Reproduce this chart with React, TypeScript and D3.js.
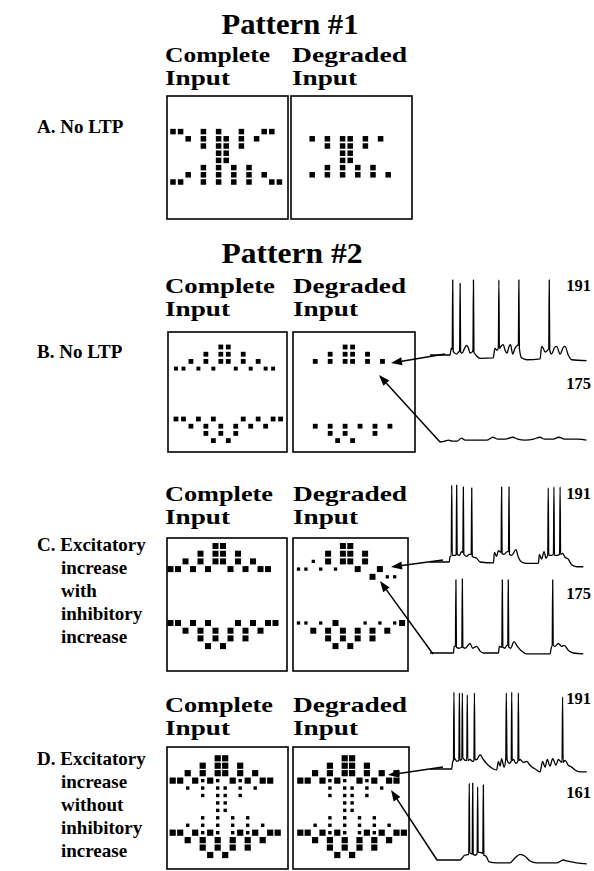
import React from "react";
import * as d3 from "d3";

// input grids: 15 columns, 14 rows; "#" full cell, "o" medium cell, "." small cell
const pattern1Complete = [
  "               ",
  "               ",
  "               ",
  "##  # #  #  ## ",
  "  # # ## # #   ",
  "    # ## #     ",
  "      ##       ",
  "      ##       ",
  "    # # # #    ",
  "  # # # # # #  ",
  "##  # # # #  ##",
  "               ",
  "               ",
  "               ",
];
const pattern1Degraded = [
  "               ",
  "               ",
  "               ",
  "               ",
  "  # # ## # #   ",
  "    # ## #     ",
  "      ##       ",
  "      ##       ",
  "    # # # #    ",
  "  # # # # # #  ",
  "               ",
  "               ",
  "               ",
  "               ",
];
const pattern2Complete = [
  "      ##       ",
  "    # ## #     ",
  "  # # ## # #   ",
  "oo o o  o o oo ",
  "               ",
  "               ",
  "               ",
  "               ",
  "               ",
  "               ",
  "## # #   # # ##",
  "  # # # # # #  ",
  "    # # #      ",
  "     # #       ",
];
const pattern2Degraded = [
  "      ##       ",
  "    # ## #     ",
  "  # # ## # #   ",
  "               ",
  "               ",
  "               ",
  "               ",
  "               ",
  "               ",
  "               ",
  "               ",
  "  # # # # # #  ",
  "    # #   #    ",
  "     # #       ",
];
const excInhComplete = [
  "      ##       ",
  "    # ## #     ",
  "  # # ## # #   ",
  "## # #  # # ## ",
  "               ",
  "               ",
  "               ",
  "               ",
  "               ",
  "               ",
  "## # #   # # ##",
  "  # # # # # #  ",
  "    # # # #    ",
  "     # #       ",
];
const excInhDegraded = [
  "      ##       ",
  "    # ## #     ",
  "  . # ## #     ",
  ".. . .  #  #   ",
  "          # .. ",
  "               ",
  "               ",
  "               ",
  "               ",
  "               ",
  ".. . #   . . .#",
  "  # # # # # #  ",
  "    # # # #    ",
  "     # #       ",
];
const excOnlyComplete = [
  "      ##       ",
  "    # ## #     ",
  "  # # ## # #   ",
  "## #.#. #.# ## ",
  "  . . .. . .   ",
  "    . .. .     ",
  "      ..       ",
  "      ..       ",
  "    . . . .    ",
  "  . . . . . .  ",
  "## #.#. .#.# ##",
  "  # # # # # #  ",
  "    # # # #    ",
  "     # #       ",
];
const excOnlyDegraded = [
  "      ##       ",
  "    # ## #     ",
  "  # # ## # # # ",
  "## #.#. #.# ## ",
  "    . .. . .   ",
  "    . .. .     ",
  "      ..       ",
  "      ..       ",
  "    . . . .    ",
  "  . . . . . .  ",
  "## #.#. .#.# ##",
  "  # # # # # #  ",
  "    # # # #    ",
  "     # #       ",
];

// membrane potential traces: [time ms, mV]
const traceB191 = [
  [0, -65], [81, -65], [86, -58], [90, -59], [92, 14], [94, -61], [100, -63], [108, -64], [115, -62],
  [120, -61], [122, 10.5], [124, -62], [130, -63], [140, -58], [148, -55], [156, -58], [162, -63],
  [170, -62], [174, -60], [176, 14], [178, -62], [183, -64], [189, -66], [203, -68.5], [256, -68],
  [263, -58], [272, -60], [277, -57], [279, 14], [281, -58], [290, -55], [297, -54], [304, -60],
  [312, -63], [320, -56], [326, -54], [335, -64], [344, -58], [353, -55], [358, -54], [360, 14],
  [362, -58], [371, -68], [392, -70], [446, -69], [452, -56], [459, -58], [466, -62], [476, -60],
  [481, -58], [483, 14], [485, -60], [492, -64], [505, -57], [513, -56], [527, -64], [540, -57],
  [547, -56], [560, -65], [574, -70], [634, -71],
];
const traceB175 = [
  [40, -65], [60, -64], [75, -63], [90, -64], [110, -64], [128, -61], [142, -63], [180, -63],
  [230, -63], [255, -60], [275, -62], [305, -62], [335, -60], [355, -62], [385, -63], [420, -62],
  [445, -60], [465, -62], [500, -62], [522, -60], [545, -62], [600, -62], [634, -63],
];
const traceC191 = [
  [0, -65], [78, -65], [81, -59], [86, -59], [88, 16], [90, -58], [97, -58], [106, -58], [108, 16],
  [110, -57], [119, -58], [128, -54], [133, -55], [135, 14], [137, -57], [149, -59], [159, -57],
  [167, -57], [169, 13], [171, -59], [178, -60], [189, -61], [203, -65], [257, -66], [261, -55],
  [270, -59], [277, -53], [288, -55], [290, 14], [292, -56], [300, -57], [313, -54], [318, -54],
  [320, 14], [322, -57], [331, -58], [348, -52], [358, -60], [371, -65], [392, -66.5], [439, -66.5],
  [443, -57], [452, -62], [462, -54], [470, -61], [477, -57], [479, 13], [481, -58], [493, -58],
  [500, -57], [502, 14], [504, -58], [513, -58], [525, -57], [527, 14], [529, -57], [537, -56],
  [547, -60], [560, -62], [574, -68], [594, -70], [621, -70],
];
const traceC175 = [
  [0, -65], [95, -65], [98, -58], [103, -58], [105, 12], [107, -59], [115, -60], [129, -59],
  [131, 13], [133, -59], [142, -60], [162, -55], [173, -60], [189, -58], [203, -63], [216, -65],
  [277, -65], [281, -58], [291, -59], [293, 12], [295, -59], [304, -60], [311, -57], [315, -57],
  [317, 12], [319, -59], [327, -60], [340, -53], [354, -58], [371, -63], [392, -66], [486, -66],
  [493, -58], [495, -58], [497, 12], [499, -57], [506, -58], [520, -55], [533, -58], [543, -57],
  [560, -62], [581, -65], [621, -66],
];
const traceD191 = [
  [0, -65], [88, -65], [92, -57], [95, -56], [97, 16], [99, -55], [101, -54], [108, -57], [117, -56],
  [119, 15], [121, -56], [129, -55], [131, 15], [133, -54], [135, -54], [142, -56], [149, -56],
  [151, 13], [153, -56], [162, -55], [173, -57], [178, -56], [180, 15], [182, -55], [189, -55],
  [203, -50], [216, -55], [236, -61], [257, -65], [270, -66], [277, -57], [284, -62], [290, -54],
  [300, -63], [307, -54], [309, 15], [312, -55], [321, -59], [329, -57], [331, 16], [333, -56],
  [338, -55], [348, -59], [356, -57], [358, 15], [360, -56], [365, -55], [378, -58], [392, -57],
  [405, -61], [432, -66], [446, -68], [456, -57], [466, -63], [475, -55], [486, -62], [497, -54],
  [510, -61], [520, -55], [533, -58], [535, -58], [537, 11], [539, -58], [547, -56], [560, -61],
  [574, -63], [587, -66], [608, -68], [635, -68],
];
const traceD161 = [
  [27, -65], [122, -65], [140, -60], [157, -59], [159, 16], [161, -58], [166, -58], [171, -59],
  [173, 16], [175, -59], [182, -60], [191, -58], [193, 12], [195, -57], [203, -57], [214, -58],
  [216, 14], [218, -60], [227, -61], [240, -67], [270, -68], [324, -68], [344, -63], [365, -59],
  [385, -61], [405, -66], [432, -68], [513, -68], [540, -65], [554, -66], [594, -68], [635, -69],
];

const cellLabels = { top: "191", bottomB: "175", bottomC: "175", bottomD: "161" };

const FONT = "'Liberation Serif', 'Times New Roman', serif";

type GridProps = {
  rows: string[];
  x: number; y: number; w: number; h: number;
  colOff: number; colStep: number; rowOff: number; rowStep: number; size: number;
};

function Grid({ rows, x, y, w, h, colOff, colStep, rowOff, rowStep, size }: GridProps) {
  const xs = d3.scaleLinear().domain([0, 14]).range([x + colOff, x + colOff + 14 * colStep]);
  const ys = d3.scaleLinear().domain([0, 13]).range([y + rowOff, y + rowOff + 13 * rowStep]);
  const sizeOf: Record<string, number> = { "#": size, o: size * 0.82, ".": size * 0.55 };
  const cells: JSX.Element[] = [];
  rows.forEach((row, r) => {
    row.split("").forEach((ch, c) => {
      if (ch === " ") return;
      const s = sizeOf[ch];
      cells.push(
        <rect key={`${r}-${c}`} x={xs(c) - s / 2} y={ys(r) - s / 2} width={s} height={s} fill="#000" />
      );
    });
  });
  return (
    <g>
      <rect x={x} y={y} width={w} height={h} fill="none" stroke="#000" strokeWidth={1.6} />
      {cells}
    </g>
  );
}

const tScale = d3.scaleLinear().domain([0, 640]).range([430, 588]);

function Trace({ data, base }: { data: number[][]; base: number }) {
  const v = d3.scaleLinear().domain([-65, 15]).range([base, base - 76]);
  const line = d3
    .line<number[]>()
    .x((d) => tScale(d[0]))
    .y((d) => v(d[1]))
    .curve(d3.curveMonotoneX);
  return <path d={line(data) || ""} fill="none" stroke="#000" strokeWidth={1.3} strokeLinejoin="round" />;
}

function Arrow({ from, to }: { from: [number, number]; to: [number, number] }) {
  const ang = Math.atan2(to[1] - from[1], to[0] - from[0]);
  const len = 11, half = 4;
  const bx = to[0] - len * Math.cos(ang), by = to[1] - len * Math.sin(ang);
  const px = -Math.sin(ang) * half, py = Math.cos(ang) * half;
  return (
    <g>
      <line x1={from[0]} y1={from[1]} x2={bx} y2={by} stroke="#000" strokeWidth={1.5} />
      <polygon points={`${to[0]},${to[1]} ${bx + px},${by + py} ${bx - px},${by - py}`} fill="#000" />
    </g>
  );
}

function Head({ x, y, a, b, la, lb }: { x: number; y: number; a: string; b: string; la: number; lb: number }) {
  return (
    <g fontFamily={FONT} fontWeight="bold" fontSize={22}>
      <text x={x} y={y} textLength={la} lengthAdjust="spacingAndGlyphs">{a}</text>
      <text x={x} y={y + 23} textLength={lb} lengthAdjust="spacingAndGlyphs">{b}</text>
    </g>
  );
}

function SideLabel({ x, y, lines }: { x: number; y: number; lines: string[] }) {
  return (
    <g fontFamily={FONT} fontWeight="bold" fontSize={19}>
      {lines.map((t, i) => (
        <text key={i} x={i === 0 ? x : x + 24} y={y + i * 23}>{t}</text>
      ))}
    </g>
  );
}

export default function App() {
  return (
    <svg width={594} height={871} style={{ position: "absolute", left: 0, top: 0, background: "#fff" }}>
      <rect width={594} height={871} fill="#fff" />
      <g fontFamily={FONT} fontWeight="bold">
        <text x={290} y={34} fontSize={29} textAnchor="middle" textLength={137} lengthAdjust="spacingAndGlyphs">Pattern #1</text>
        <text x={292} y={263} fontSize={29} textAnchor="middle" textLength={141} lengthAdjust="spacingAndGlyphs">Pattern #2</text>
      </g>

      {/* A */}
      <Head x={165} y={62} a="Complete" b="Input" la={105} lb={65} />
      <Head x={292} y={62} a="Degraded" b="Input" la={115} lb={65} />
      <SideLabel x={37} y={133} lines={["A. No LTP"]} />
      <Grid rows={pattern1Complete} x={167} y={96} w={121} h={123} colOff={6} colStep={7.6} rowOff={14} rowStep={7.2} size={5.5} />
      <Grid rows={pattern1Degraded} x={291} y={96} w={121} h={123} colOff={6} colStep={7.6} rowOff={14} rowStep={7.2} size={5.5} />

      {/* B */}
      <Head x={165} y={293} a="Complete" b="Input" la={110} lb={65} />
      <Head x={293} y={293} a="Degraded" b="Input" la={113} lb={65} />
      <SideLabel x={37} y={358} lines={["B. No LTP"]} />
      <Grid rows={pattern2Complete} x={168} y={332} w={119} h={120} colOff={8} colStep={7.47} rowOff={15} rowStep={7.2} size={4.8} />
      <Grid rows={pattern2Degraded} x={293} y={332} w={122} h={120} colOff={7.3} colStep={7.47} rowOff={15} rowStep={7.2} size={4.8} />
      <Trace data={traceB191} base={355} />
      <Trace data={traceB175} base={442} />
      <Arrow from={[445, 354]} to={[391, 363]} />
      <Arrow from={[440, 442]} to={[379, 375]} />

      {/* C */}
      <Head x={165} y={501} a="Complete" b="Input" la={108} lb={65} />
      <Head x={293} y={501} a="Degraded" b="Input" la={114} lb={65} />
      <SideLabel x={37} y={551} lines={["C. Excitatory", "increase", "with", "inhibitory", "increase"]} />
      <Grid rows={excInhComplete} x={167} y={538} w={120} h={133} colOff={3.5} colStep={7.5} rowOff={8} rowStep={7.7} size={6} />
      <Grid rows={excInhDegraded} x={293} y={538} w={115} h={133} colOff={5.5} colStep={7.4} rowOff={8} rowStep={7.7} size={6} />
      <Trace data={traceC191} base={562} />
      <Trace data={traceC175} base={653} />
      <Arrow from={[443, 560]} to={[391, 567]} />
      <Arrow from={[433, 654]} to={[380, 581]} />

      {/* D */}
      <Head x={165} y={712} a="Complete" b="Input" la={108} lb={65} />
      <Head x={293} y={712} a="Degraded" b="Input" la={114} lb={65} />
      <SideLabel x={37} y={765} lines={["D. Excitatory", "increase", "without", "inhibitory", "increase"]} />
      <Grid rows={excOnlyComplete} x={167} y={747} w={121} h={122} colOff={5.7} colStep={7.5} rowOff={11.3} rowStep={7.44} size={6.2} />
      <Grid rows={excOnlyDegraded} x={293} y={747} w={116} h={122} colOff={7.3} colStep={7.4} rowOff={11.3} rowStep={7.44} size={6.2} />
      <Trace data={traceD191} base={769} />
      <Trace data={traceD161} base={860} />
      <Arrow from={[443, 767]} to={[388, 775]} />
      <Arrow from={[437, 860]} to={[391, 790]} />

      <g fontFamily={FONT} fontWeight="bold" fontSize={16.5} textAnchor="end">
        <text x={591} y={291}>{cellLabels.top}</text>
        <text x={591} y={389}>{cellLabels.bottomB}</text>
        <text x={591} y={499}>{cellLabels.top}</text>
        <text x={591} y={599}>{cellLabels.bottomC}</text>
        <text x={591} y={704}>{cellLabels.top}</text>
        <text x={591} y={798}>{cellLabels.bottomD}</text>
      </g>
    </svg>
  );
}
